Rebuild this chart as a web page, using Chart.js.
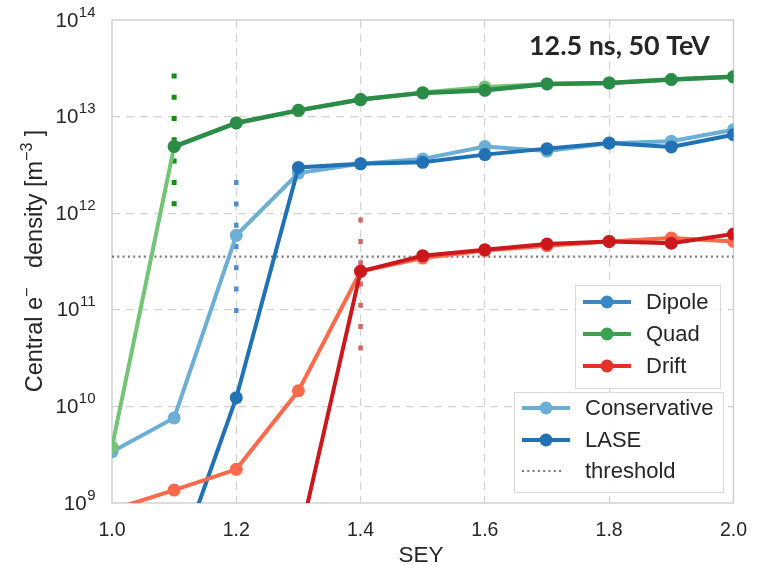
<!DOCTYPE html>
<html>
<head>
<meta charset="utf-8">
<script src="https://cdn.jsdelivr.net/npm/chart.js@4.4.0/dist/chart.umd.min.js"></script>
<style>
  html, body { margin: 0; padding: 0; background: #fff; }
</style>
</head>
<body>
<canvas id="seyChart" width="763" height="565"></canvas>
<script>
// SEY scan, central electron density (log scale)
const sey = [1.0, 1.1, 1.2, 1.3, 1.4, 1.5, 1.6, 1.7, 1.8, 1.9, 2.0];

const dipoleConservative = [3.4e9, 7.6e9, 5.9e11, 2.6e12, 3.25e12, 3.65e12, 4.9e12, 4.4e12, 5.3e12, 5.55e12, 7.3e12];
const dipoleLase = [null, 1.9e8, 1.23e10, 2.98e12, 3.25e12, 3.36e12, 4.04e12, 4.66e12, 5.33e12, 4.85e12, 6.5e12];
const quadConservative = [3.8e9, 4.9e12, 8.6e12, 1.16e13, 1.5e13, 1.78e13, 2.03e13, 2.18e13, 2.23e13, 2.42e13, 2.58e13];
const quadLase = [null, 4.9e12, 8.6e12, 1.16e13, 1.5e13, 1.76e13, 1.87e13, 2.18e13, 2.23e13, 2.42e13, 2.58e13];
const driftConservative = [8.5e8, 1.36e9, 2.23e9, 1.45e10, 2.5e11, 3.43e11, 4.1e11, 4.6e11, 5.1e11, 5.53e11, 5.1e11];
const driftLase = [null, null, null, 3.8e8, 2.5e11, 3.63e11, 4.19e11, 4.8e11, 5.1e11, 4.9e11, 6.08e11];

// vertical dotted ranges (quad, dipole, drift)
const rangeSey = [1.1, 1.2, 1.4];
const rangeTop = [2.8e13, 2.2e12, 9.0e11];
const rangeBottom = [8.0e11, 6.4e10, 2.6e10];

const threshold = 3.56e11;

const xTicks = [1.0, 1.2, 1.4, 1.6, 1.8, 2.0];
const yExponents = [9, 10, 11, 12, 13, 14];

const FONT = '"Liberation Sans", Arial, sans-serif';
const TEXT = '#262626';

function points(values) {
  return values.map((v, i) => ({ x: sey[i], y: v }));
}

function series(values, color, width, order) {
  return {
    data: points(values),
    borderColor: color,
    backgroundColor: color,
    borderWidth: width,
    pointRadius: 6.5,
    pointBorderWidth: 0,
    pointBackgroundColor: color,
    clip: 0,
    order: order
  };
}

function range(i, color, width) {
  return {
    data: [{ x: rangeSey[i], y: rangeTop[i] }, { x: rangeSey[i], y: rangeBottom[i] }],
    borderColor: color,
    borderWidth: width,
    borderDash: [5, 16.3],
    borderCapStyle: 'butt',
    pointRadius: 0,
    order: 20
  };
}

const datasets = [
  series(dipoleConservative, '#6baed6', 4, 9),
  series(dipoleLase, '#2171b5', 4, 8),
  series(quadConservative, '#74c476', 4, 7),
  series(quadLase, '#2b8c47', 4.5, 6),
  series(driftConservative, '#fb6a4a', 4, 5),
  series(driftLase, '#cb181d', 4, 4),
  {
    data: [{ x: 1.0, y: threshold }, { x: 2.0, y: threshold }],
    borderColor: '#7a7a7a',
    borderWidth: 2.2,
    borderDash: [2, 3.3],
    borderCapStyle: 'butt',
    pointRadius: 0,
    order: 15
  },
  range(0, '#119111', 5),
  range(1, '#4f8fd0', 4.5),
  range(2, '#d46666', 4.5)
];

// solid frame round the plot area
const framePlugin = {
  id: 'frame',
  beforeDatasetsDraw(chart) {
    const a = chart.chartArea;
    const ctx = chart.ctx;
    ctx.save();
    ctx.strokeStyle = '#cfcfcf';
    ctx.lineWidth = 1.4;
    ctx.strokeRect(a.left, a.top, a.right - a.left, a.bottom - a.top);
    ctx.restore();
  }
};

// power-of-ten labels, axis titles, annotation and the two legends
const textPlugin = {
  id: 'texts',
  afterDraw(chart) {
    const ctx = chart.ctx;
    const y = chart.scales.y;
    ctx.save();
    ctx.fillStyle = TEXT;

    // y tick labels 10^n
    yExponents.forEach(e => {
      const py = y.getPixelForValue(Math.pow(10, e));
      const right = 95.5;
      ctx.font = '15px ' + FONT;
      ctx.textAlign = 'right';
      ctx.textBaseline = 'alphabetic';
      const ew = ctx.measureText(String(e)).width;
      ctx.fillText(String(e), right, py - 3.5);
      ctx.font = '20.5px ' + FONT;
      ctx.textBaseline = 'middle';
      ctx.fillText('10', right - ew - 0.5, py + 1);
    });

    // x axis title
    ctx.font = '22.5px ' + FONT;
    ctx.textAlign = 'center';
    ctx.textBaseline = 'alphabetic';
    ctx.fillText('SEY', 421, 562);

    // y axis title with superscripts
    const parts = [
      { t: 'Central e', s: 23.5, dy: 0 },
      { t: '\u2212', s: 16, dy: -9.5 },
      { t: '   density [m', s: 23.5, dy: 0 },
      { t: '\u22123', s: 16, dy: -9.5 },
      { t: ' ]', s: 23.5, dy: 0 }
    ];
    let total = 0;
    parts.forEach(p => { ctx.font = p.s + 'px ' + FONT; p.w = ctx.measureText(p.t).width; total += p.w; });
    ctx.save();
    ctx.translate(41.5, 261);
    ctx.rotate(-Math.PI / 2);
    ctx.textAlign = 'left';
    let px = -total / 2;
    parts.forEach(p => {
      ctx.font = p.s + 'px ' + FONT;
      ctx.fillText(p.t, px, p.dy);
      px += p.w;
    });
    ctx.restore();

    // annotation
    const label = '12.5 ns, 50 TeV';
    ctx.font = 'bold 24px Lato, ' + FONT;
    const tw = ctx.measureText(label).width;
    const size = 24 * 181 / tw;
    ctx.font = 'bold ' + size.toFixed(2) + 'px Lato, ' + FONT;
    ctx.textAlign = 'left';
    ctx.fillText(label, 529, 55);

    // legends
    function box(x, yTop, w, h) {
      ctx.fillStyle = 'rgba(255,255,255,0.85)';
      ctx.fillRect(x, yTop, w, h);
      ctx.strokeStyle = '#d9d9d9';
      ctx.lineWidth = 1;
      ctx.strokeRect(x + 0.5, yTop + 0.5, w, h);
    }
    function entry(x, py, color, text, dotted) {
      ctx.save();
      ctx.strokeStyle = color;
      if (dotted) {
        ctx.lineWidth = 2.2;
        ctx.setLineDash([2, 3.3]);
        ctx.beginPath();
        ctx.moveTo(x, py);
        ctx.lineTo(x + 42, py);
        ctx.stroke();
      } else {
        ctx.lineWidth = 4;
        ctx.beginPath();
        ctx.moveTo(x, py);
        ctx.lineTo(x + 48, py);
        ctx.stroke();
        ctx.fillStyle = color;
        ctx.beginPath();
        ctx.arc(x + 24, py, 6.5, 0, Math.PI * 2);
        ctx.fill();
      }
      ctx.restore();
      ctx.fillStyle = TEXT;
      ctx.font = '22px ' + FONT;
      ctx.textAlign = 'left';
      ctx.textBaseline = 'middle';
      ctx.fillText(text, x + 63, py + 1);
    }
    box(575, 285, 145, 103);
    entry(583, 302, '#3a87c8', 'Dipole');
    entry(583, 334, '#3aa150', 'Quad');
    entry(583, 366, '#e5312a', 'Drift');
    box(514, 392, 209, 100);
    entry(522, 408, '#6baed6', 'Conservative');
    entry(522, 440, '#2171b5', 'LASE');
    entry(522, 471, '#7a7a7a', 'threshold', true);

    ctx.restore();
  }
};

new Chart(document.getElementById('seyChart').getContext('2d'), {
  type: 'line',
  data: { datasets: datasets },
  options: {
    responsive: false,
    animation: false,
    devicePixelRatio: 1,
    layout: { padding: { top: 20, right: 29, left: 0, bottom: 0 } },
    plugins: { legend: { display: false }, tooltip: { enabled: false } },
    scales: {
      x: {
        type: 'linear',
        min: 1.0,
        max: 2.0,
        afterBuildTicks: axis => { axis.ticks = xTicks.map(v => ({ value: v })); },
        afterFit: axis => { axis.height = 62; },
        ticks: {
          callback: v => v.toFixed(1),
          color: TEXT,
          font: { family: FONT, size: 19.5 },
          padding: 16,
          maxRotation: 0
        },
        grid: {
          drawTicks: false,
          lineWidth: 1.2,
          color: c => (c.index === 0 || c.index === xTicks.length - 1) ? 'rgba(0,0,0,0)' : '#d3d3d3'
        },
        border: { display: false, dash: [8, 6] }
      },
      y: {
        type: 'logarithmic',
        min: 1e9,
        max: 1e14,
        afterBuildTicks: axis => { axis.ticks = yExponents.map(e => ({ value: Math.pow(10, e) })); },
        afterFit: axis => { axis.width = 112; },
        ticks: { display: false },
        grid: {
          drawTicks: false,
          lineWidth: 1.2,
          color: c => (c.index === 0 || c.index === yExponents.length - 1) ? 'rgba(0,0,0,0)' : '#d3d3d3'
        },
        border: { display: false, dash: [8, 6] }
      }
    }
  },
  plugins: [framePlugin, textPlugin]
});
</script>
</body>
</html>
